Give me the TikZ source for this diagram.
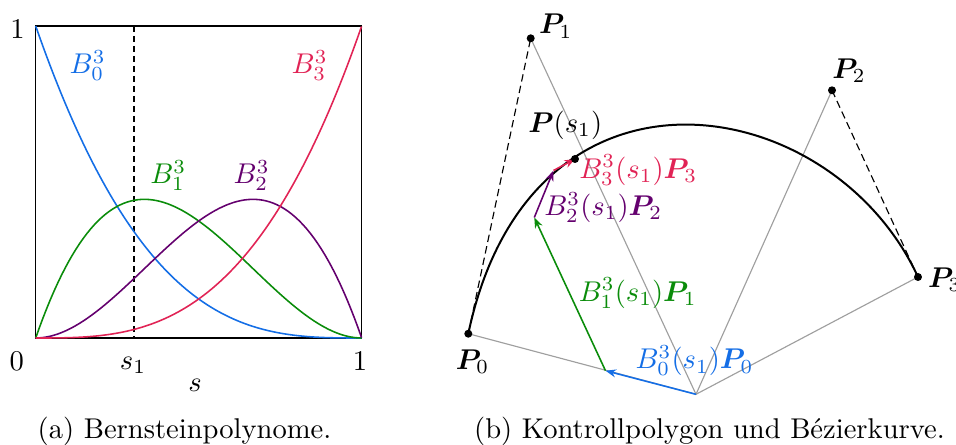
\documentclass[tikz,border=0pt]{standalone}
\usepackage{fontspec}
\usepackage{bm}
\usetikzlibrary{arrows.meta}
\definecolor{bblue}{RGB}{20,110,230}
\definecolor{bred}{RGB}{225,35,85}
\definecolor{bgreen}{RGB}{10,140,10}
\definecolor{bpurple}{RGB}{100,0,110}
\begin{document}
\begin{tikzpicture}[x=0.35pt,y=-0.35pt,
  curve/.style={line width=0.55pt},
  frame/.style={line width=0.4pt},
  sdash/.style={line width=0.4pt, dash pattern=on 2pt off 1.5pt},
  ldash/.style={line width=0.4pt, dash pattern=on 2.6pt off 1.5pt},
  ray/.style={gray!75, line width=0.4pt},
  arr/.style={line width=0.55pt, -{Stealth[length=3.7pt,width=2.8pt]}},
  lbl/.style={inner sep=0pt}]
\useasboundingbox (0,0) rectangle (956,445);
% ---------- (a) ----------
\coordinate (BL) at (35.7,338);
\coordinate (TR) at (361.7,26);
\coordinate (Stop) at (134,26);
\coordinate (Sbot) at (134,338);
\draw[frame] (BL) rectangle (TR);
\draw[sdash] (Stop) -- (Sbot);
\draw[bblue, curve] plot[domain=0:1, samples=90] ({35.7+326*\x},{338-312*(1-\x)^3});
\draw[bgreen, curve] plot[domain=0:1, samples=90] ({35.7+326*\x},{338-312*3*\x*(1-\x)^2});
\draw[bpurple, curve] plot[domain=0:1, samples=90] ({35.7+326*\x},{338-312*3*\x^2*(1-\x)});
\draw[bred, curve] plot[domain=0:1, samples=90] ({35.7+326*\x},{338-312*\x^3});
\node[lbl, bblue] (lb0) at (87.7,65.8) {$B_0^3$};
\node[lbl, bred] (lb3) at (309.7,65.8) {$B_3^3$};
\node[lbl, bgreen] (lb1) at (168.3,175.8) {$B_1^3$};
\node[lbl, bpurple] (lb2) at (251.7,175.8) {$B_2^3$};
\node[lbl] (ty1) at (17.5,28.8) {$1$};
\node[lbl] (tx0) at (16.7,361.7) {$0$};
\node[lbl] (txs) at (133,365.5) {$s_1$};
\node[lbl] (tx1) at (360,361) {$1$};
\node[lbl] (xlab) at (195,385) {$s$};
\node (capa) at (184.5,431) {(a) Bernsteinpolynome.};
% ---------- (b) ----------
\coordinate (O) at (696,394.3);
\coordinate (P0) at (468.3,333.7);
\coordinate (P1) at (530.7,38.3);
\coordinate (P2) at (832,90.3);
\coordinate (P3) at (918,277);
\coordinate (A) at (605.5,370.7);
\coordinate (Bc) at (534.3,217.5);
\coordinate (C) at (553.5,170.5);
\coordinate (Ps) at (575,159);
\draw[ray] (O) -- (P0);
\draw[ray] (O) -- (P1);
\draw[ray] (O) -- (P2);
\draw[ray] (O) -- (P3);
\draw[ldash] (P0) -- (P1);
\draw[ldash] (P2) -- (P3);
\draw[line width=0.7pt] (P0) .. controls (P1) and (P2) .. (P3);
\draw[arr, bblue] (O) -- (A);
\draw[arr, bgreen] (A) -- (Bc);
\draw[arr, bpurple] (Bc) -- (C);
\draw[arr, bred] (C) -- (Ps);
\foreach \p in {P0,P1,P2,P3,Ps} \fill (\p) circle[radius=1.4pt];
\node[lbl] (lP0) at (472.5,361.7) {$\bm{P}_0$};
\node[lbl] (lP1) at (555.8,26.3) {$\bm{P}_1$};
\node[lbl] (lP2) at (849,70.8) {$\bm{P}_2$};
\node[lbl, anchor=west] (lP3) at (927.5,280) {$\bm{P}_3$};
\node[lbl] (lPs) at (565.3,125) {$\bm{P}(s_1)$};
\node[lbl, bred] (lv3) at (638.3,170) {$B_3^3(s_1)\bm{P}_3$};
\node[lbl, bpurple] (lv2) at (603.3,207.5) {$B_2^3(s_1)\bm{P}_2$};
\node[lbl, bgreen] (lv1) at (637.8,293.3) {$B_1^3(s_1)\bm{P}_1$};
\node[lbl, bblue] (lv0) at (694.5,360.8) {$B_0^3(s_1)\bm{P}_0$};
\node (capb) at (709.5,431) {(b) Kontrollpolygon und Bézierkurve.};
\end{tikzpicture}
\end{document}
